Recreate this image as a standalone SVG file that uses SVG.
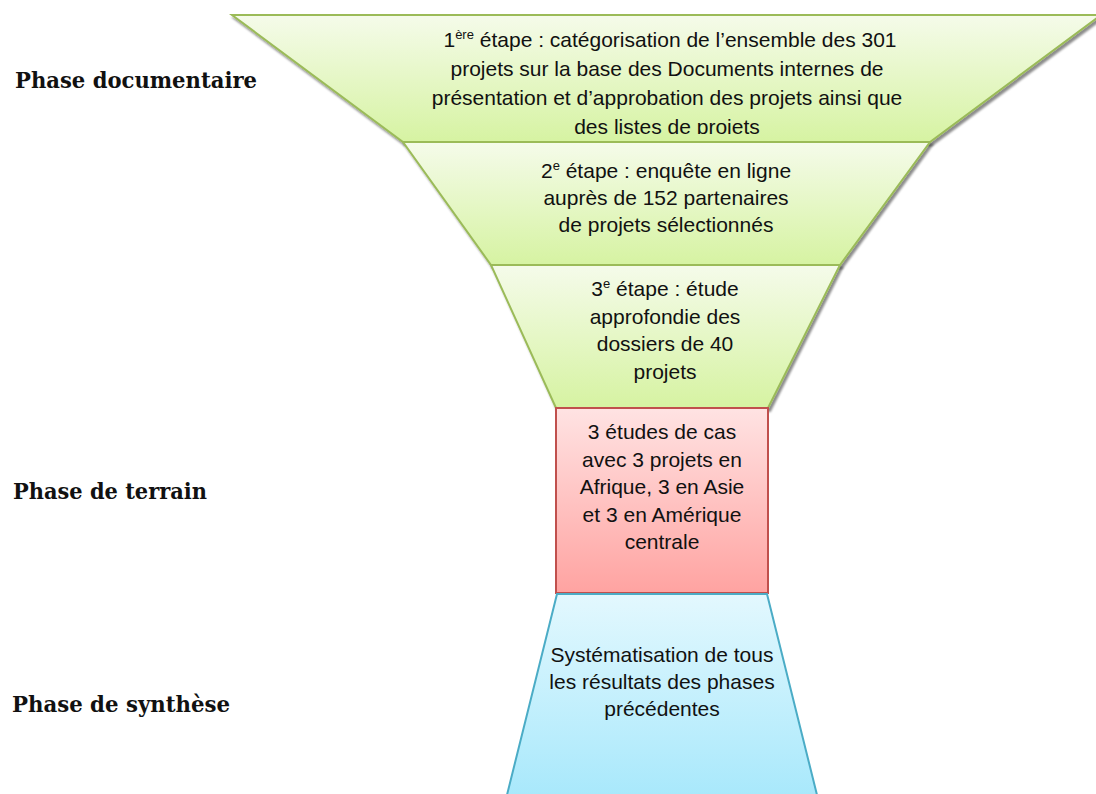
<svg xmlns="http://www.w3.org/2000/svg" width="1096" height="794" viewBox="0 0 1096 794">
<defs>
<linearGradient id="gGreen" x1="0" y1="0" x2="0" y2="1"><stop offset="0" stop-color="#f5fbea"/><stop offset="1" stop-color="#d6f3a2"/></linearGradient>
<linearGradient id="gRed" x1="0" y1="0" x2="0" y2="1"><stop offset="0" stop-color="#ffe3e3"/><stop offset="1" stop-color="#ffa3a1"/></linearGradient>
<linearGradient id="gBlue" x1="0" y1="0" x2="0" y2="1"><stop offset="0" stop-color="#e3f8fe"/><stop offset="1" stop-color="#a3e7fb"/></linearGradient>
<filter id="sh" x="-5%" y="-5%" width="110%" height="115%"><feDropShadow dx="2" dy="3" stdDeviation="1" flood-color="#000" flood-opacity="0.45"/></filter>
<clipPath id="c1"><rect x="0" y="0" width="1096" height="134"/></clipPath>
</defs>
<style>
.green{fill:url(#gGreen);stroke:#9bbb59;stroke-width:2;filter:url(#sh)}
.red{fill:url(#gRed);stroke:#c0504d;stroke-width:2}
.blue{fill:url(#gBlue);stroke:#4bacc6;stroke-width:2}
.t{font-family:"Liberation Sans",Arial,sans-serif;font-size:21px;fill:#111;text-anchor:middle}
.sup{font-size:13px}
.ph{font-family:"DejaVu Serif","Liberation Serif",serif;font-size:23px;font-weight:bold;fill:#111}
</style>
<g id="labels">
<text class="ph" x="15" y="88" textLength="242" lengthAdjust="spacingAndGlyphs">Phase documentaire</text>
<text class="ph" x="13" y="499" textLength="194" lengthAdjust="spacingAndGlyphs">Phase de terrain</text>
<text class="ph" x="12" y="712" textLength="218" lengthAdjust="spacingAndGlyphs">Phase de synthèse</text>
</g>
<g id="connectors"></g>
<g id="step1">
<polygon class="green" points="232,15 1101,15 930,142 403,142"/>
<g clip-path="url(#c1)">
<text class="t" x="670" y="47">1<tspan class="sup" dy="-8">ère</tspan><tspan dy="8"> étape : catégorisation de l’ensemble des 301</tspan></text>
<text class="t" x="667" y="76">projets sur la base des Documents internes de</text>
<text class="t" x="667" y="105">présentation et d’approbation des projets ainsi que</text>
<text class="t" x="667" y="134">des listes de projets</text>
</g>
</g>
<g id="step2">
<polygon class="green" points="403,142 930,142 840,265 491,265"/>
<text class="t" x="666" y="178">2<tspan class="sup" dy="-8">e</tspan><tspan dy="8"> étape : enquête en ligne</tspan></text>
<text class="t" x="666" y="205">auprès de 152 partenaires</text>
<text class="t" x="666" y="232">de projets sélectionnés</text>
</g>
<g id="step3">
<polygon class="green" points="491,265 840,265 768,408 556,408"/>
<text class="t" x="665" y="296">3<tspan class="sup" dy="-8">e</tspan><tspan dy="8"> étape : étude</tspan></text>
<text class="t" x="665" y="324">approfondie des</text>
<text class="t" x="665" y="351">dossiers de 40</text>
<text class="t" x="665" y="379">projets</text>
</g>
<g id="terrain">
<rect class="red" x="556" y="408" width="212" height="185"/>
<text class="t" x="662" y="439">3 études de cas</text>
<text class="t" x="662" y="467">avec 3 projets en</text>
<text class="t" x="662" y="494">Afrique, 3 en Asie</text>
<text class="t" x="662" y="522">et 3 en Amérique</text>
<text class="t" x="662" y="549">centrale</text>
</g>
<g id="synthese">
<polygon class="blue" points="557,594 767,594 822,815 502,815"/>
<text class="t" x="662" y="662">Systématisation de tous</text>
<text class="t" x="662" y="689">les résultats des phases</text>
<text class="t" x="662" y="716">précédentes</text>
</g>
</svg>
